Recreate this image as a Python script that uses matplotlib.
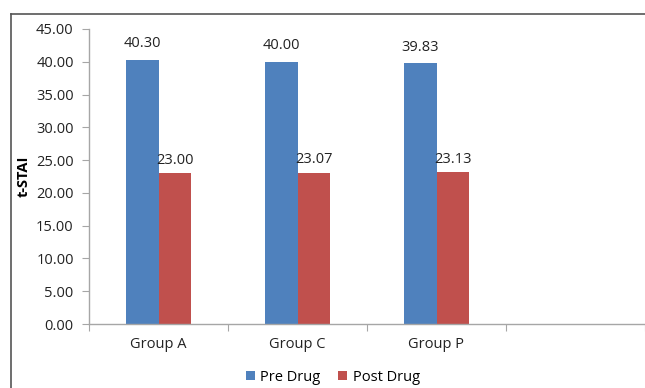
import matplotlib.pyplot as plt
import numpy as np
from matplotlib.lines import Line2D

# ---------------------------------------------------
# DATA
# ---------------------------------------------------
groups = ["Group A", "Group C", "Group P", ""]
pre_drug = [40.30, 40.00, 39.83]
post_drug = [23.00, 23.07, 23.13]
y_ticks = [0, 5, 10, 15, 20, 25, 30, 35, 40, 45]

blue = "#4F81BD"
red = "#C0504D"
axis_gray = "#A6A6A6"

plt.rcParams['font.family'] = ['Open Sans', 'DejaVu Sans']

# ---------------------------------------------------
# FIGURE
# ---------------------------------------------------
fig = plt.figure(figsize=(6.45, 3.88), dpi=100)
ax = fig.add_axes([89 / 645, 1 - 324 / 388, 556 / 645, 295 / 388])

x = np.arange(len(pre_drug))
w = 0.237

b1 = ax.bar(x - w / 2, pre_drug, w, color=blue, label="Pre Drug")
b2 = ax.bar(x + w / 2, post_drug, w, color=red, label="Post Drug")

# data labels
for rect, v in zip(b1, pre_drug):
    ax.annotate(f"{v:.2f}", (rect.get_x() + rect.get_width() / 2, v),
                xytext=(0, 6), textcoords="offset points",
                ha="center", va="bottom", fontsize=10.5, color="#222222")
for rect, v in zip(b2, post_drug):
    ax.annotate(f"{v:.2f}", (rect.get_x() + rect.get_width() / 2, v),
                xytext=(0, 4), textcoords="offset points",
                ha="center", va="bottom", fontsize=10.5, color="#222222")

# ---------------------------------------------------
# AXES
# ---------------------------------------------------
ax.set_xlim(-0.5, len(groups) - 0.5)
ax.set_ylim(0, 45)
ax.set_yticks(y_ticks)
ax.set_yticklabels([f"{t:.2f}" for t in y_ticks], fontsize=10.5, color="#222222")

# category labels between boundary ticks
ax.set_xticks(np.arange(len(groups) + 1) - 0.5)
ax.set_xticklabels([])
ax.set_xticks(np.arange(len(groups)), minor=True)
ax.set_xticklabels(groups, minor=True, fontsize=10.5, color="#222222")
ax.tick_params(axis="x", which="minor", length=0, pad=9)
ax.tick_params(axis="x", which="major", length=5, color=axis_gray, direction="out")
ax.tick_params(axis="y", length=5, color=axis_gray, direction="out", pad=6)

for side in ["top", "right"]:
    ax.spines[side].set_visible(False)
for side in ["left", "bottom"]:
    ax.spines[side].set_color(axis_gray)
    ax.spines[side].set_linewidth(1.0)
ax.spines["bottom"].set_clip_on(False)

ax.set_ylabel("t-STAI", fontsize=10.5, fontweight="bold", labelpad=4)

# ---------------------------------------------------
# LEGEND
# ---------------------------------------------------
fig.legend(handles=[b1, b2], loc="center", bbox_to_anchor=(0.516, 0.028),
           ncol=2, frameon=False, fontsize=10.5, handlelength=0.6,
           handleheight=0.6, handletextpad=0.4, columnspacing=1.2)

# ---------------------------------------------------
# OUTER FRAME (top + left)
# ---------------------------------------------------
fig.add_artist(Line2D([11 / 645, 1.0], [1 - 14 / 388, 1 - 14 / 388],
                      color="#555555", lw=1.2))
fig.add_artist(Line2D([11 / 645, 11 / 645], [0, 1 - 14 / 388],
                      color="#555555", lw=1.2))

fig.savefig("out.png", dpi=100)
